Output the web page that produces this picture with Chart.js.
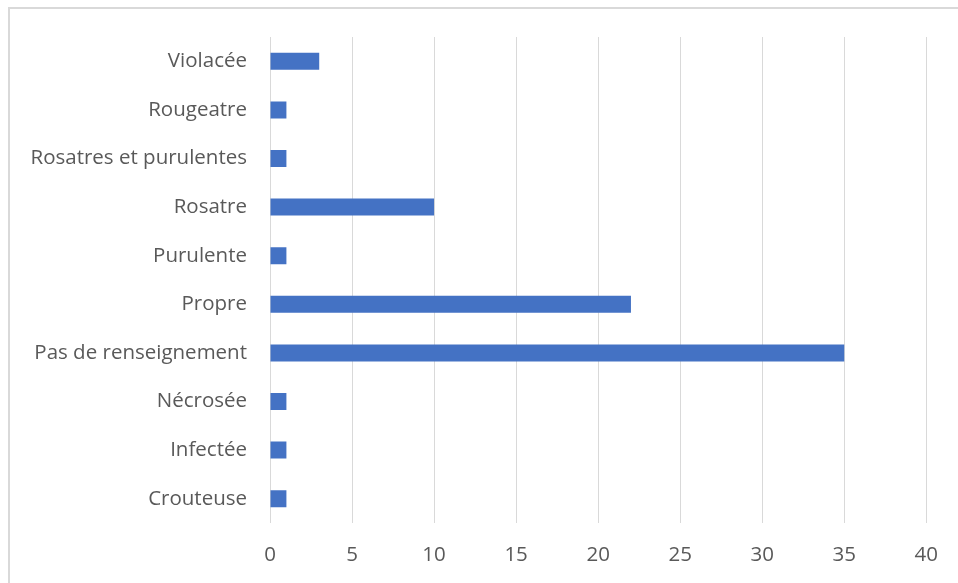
<!DOCTYPE html>
<html>
<head>
<meta charset="utf-8">
<script src="https://cdn.jsdelivr.net/npm/chart.js@4"></script>
<style>
  body { margin: 0; background: #fff; }
  #wrap { position: relative; width: 958px; height: 583px; }
  #frame { position: absolute; left: 8px; top: 7px; right: -2px; bottom: -2px;
           border-top: 2px solid #d9d9d9; border-left: 2px solid #d9d9d9; }
  canvas { position: absolute; left: 0; top: 0; }
</style>
</head>
<body>
<div id="wrap">
  <div id="frame"></div>
  <canvas id="chart" width="958" height="583"></canvas>
</div>
<script>
// categories, top to bottom
const categories = ["Violacée", "Rougeatre", "Rosatres et purulentes", "Rosatre", "Purulente",
  "Propre", "Pas de renseignement", "Nécrosée", "Infectée", "Crouteuse"];
const counts = [3, 1, 1, 10, 1, 22, 35, 1, 1, 1];
const xMin = 0, xMax = 40, xStep = 5;

const labelFont = { family: "'Open Sans', 'Noto Sans', sans-serif", size: 20.5 };

new Chart(document.getElementById("chart"), {
  type: "bar",
  data: {
    labels: categories,
    datasets: [{
      data: counts,
      backgroundColor: "#4472c4",
      barPercentage: 0.7,
      categoryPercentage: 0.5
    }]
  },
  options: {
    indexAxis: "y",
    responsive: false,
    animation: false,
    layout: { padding: { left: 10, right: 29, top: 37, bottom: 0 } },
    plugins: { legend: { display: false }, tooltip: { enabled: false } },
    scales: {
      x: {
        min: xMin, max: xMax,
        ticks: { stepSize: xStep, color: "#595959", font: labelFont, padding: 20 },
        grid: { color: "#d9d9d9", lineWidth: 1, drawTicks: false },
        border: { display: false },
        afterFit: s => { s.height = 60; }
      },
      y: {
        ticks: { color: "#595959", font: labelFont, padding: 23 },
        grid: { display: false, drawTicks: false },
        border: { display: false },
        afterFit: s => { s.width = 260; }
      }
    }
  }
});
</script>
</body>
</html>
